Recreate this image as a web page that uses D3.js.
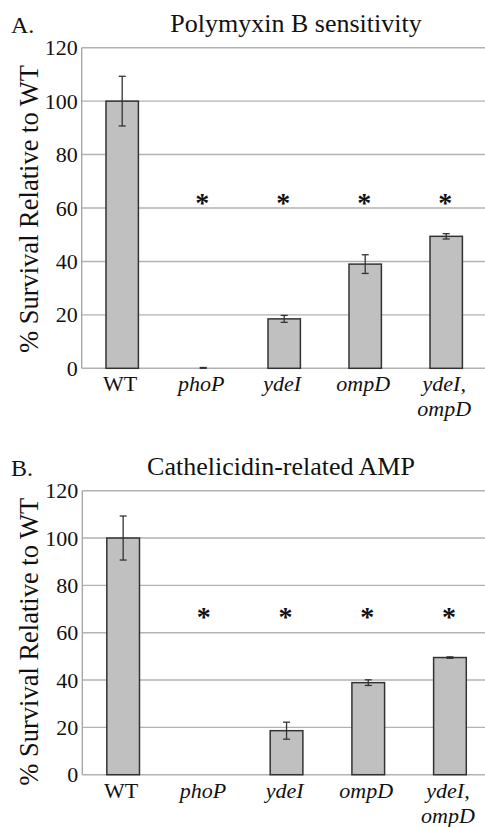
<!DOCTYPE html>
<html>
<head>
<meta charset="utf-8">
<script src="https://cdn.jsdelivr.net/npm/d3@7"></script>
</head>
<body style="margin:0;background:#fff">
<svg id="chart" width="485" height="827" style="display:block"></svg>
<script>
// ---- data ----
const categories = ["WT", "phoP", "ydeI", "ompD", "ydeI,ompD"];
const categoryLines = [["WT"], ["phoP"], ["ydeI"], ["ompD"], ["ydeI,", "ompD"]];
const yTicks = [0, 20, 40, 60, 80, 100, 120];

const polymyxinValues = [100, 0, 18.5, 39, 49.4];
const polymyxinErrors = [9.3, 0.3, 1.3, 3.5, 1.0];
const polymyxinSignificant = [false, true, true, true, true];
const polymyxinStarLevel = 63;

const cathelicidinValues = [100, 0, 18.6, 38.9, 49.5];
const cathelicidinErrors = [9.3, 0, 3.6, 1.2, 0.3];
const cathelicidinSignificant = [false, true, true, true, true];
const cathelicidinStarLevel = 68;

const FONT = "Liberation Serif";
const svg = d3.select("#chart");

function drawPanel(opt) {
  const g = svg.append("g");
  const x = d3.scaleBand().domain(categories)
    .range([opt.x0, opt.x1]).paddingInner(0.6).paddingOuter(0.3);
  const y = d3.scaleLinear().domain([0, 120]).range([opt.yBottom, opt.yTop]);

  g.selectAll("line.grid").data(yTicks).join("line")
    .attr("x1", opt.x0).attr("x2", 485)
    .attr("y1", d => y(d)).attr("y2", d => y(d))
    .attr("stroke", "#b2b2b2").attr("stroke-width", 1.4);
  g.append("line").attr("x1", opt.x0).attr("x2", opt.x0)
    .attr("y1", y(120)).attr("y2", y(0))
    .attr("stroke", "#a8a8a8").attr("stroke-width", 1.4);

  const ax = g.append("g").attr("transform", `translate(${opt.x0 - 4},0)`)
    .call(d3.axisLeft(y).tickValues(yTicks).tickSize(0).tickPadding(0));
  ax.attr("font-family", FONT).attr("font-size", 22);
  ax.select(".domain").remove();
  ax.selectAll("text").attr("font-size", 22).attr("font-family", FONT)
    .style("font-family", FONT).attr("fill", "#111");

  const data = categories.map((c, i) => ({ c, v: opt.values[i], e: opt.errors[i], s: opt.sig[i] }));

  g.selectAll("rect.bar").data(data.filter(d => d.v > 0)).join("rect")
    .attr("x", d => x(d.c)).attr("width", x.bandwidth())
    .attr("y", d => y(d.v)).attr("height", d => y(0) - y(d.v))
    .attr("fill", "#c0c0c0").attr("stroke", "#333").attr("stroke-width", 1.5);

  const eb = g.selectAll("g.err").data(data.filter(d => d.e > 0)).join("g")
    .attr("transform", d => `translate(${x(d.c) + x.bandwidth() / 2},0)`);
  eb.append("line").attr("y1", d => y(d.v + d.e)).attr("y2", d => y(Math.max(0, d.v - d.e)))
    .attr("stroke", "#333").attr("stroke-width", 1.3);
  eb.append("line").attr("x1", -3.5).attr("x2", 3.5)
    .attr("y1", d => y(d.v + d.e)).attr("y2", d => y(d.v + d.e))
    .attr("stroke", "#333").attr("stroke-width", 1.3);
  eb.append("line").attr("x1", -3.5).attr("x2", 3.5)
    .attr("y1", d => y(Math.max(0, d.v - d.e))).attr("y2", d => y(Math.max(0, d.v - d.e)))
    .attr("stroke", "#333").attr("stroke-width", 1.3);

  g.selectAll("text.star").data(data.filter(d => d.s)).join("text")
    .style("font-family", FONT).attr("fill", "#111")
    .attr("x", d => x(d.c) + x.bandwidth() / 2 - 1)
    .attr("y", y(opt.starLevel) + 12)
    .attr("text-anchor", "middle").attr("font-size", 28).attr("font-weight", "bold")
    .text("*");

  const xl = g.selectAll("text.xl").data(categories).join("text")
    .style("font-family", FONT).attr("fill", "#111")
    .attr("text-anchor", "middle").attr("font-size", 22)
    .attr("font-style", (d, i) => i === 0 ? "normal" : "italic")
    .attr("transform", d => `translate(${x(d) + x.bandwidth() / 2 - 2},${y(0) + opt.xlabelDy})`);
  xl.selectAll("tspan").data((d, i) => categoryLines[i]).join("tspan")
    .attr("x", 0).attr("dy", (d, j) => j === 0 ? 0 : 25).text(d => d);

  g.append("text").style("font-family", FONT).attr("fill", "#111")
    .attr("x", opt.titleX).attr("y", opt.titleY)
    .attr("text-anchor", "middle").attr("font-size", 26).text(opt.title);
  g.append("text").style("font-family", FONT).attr("fill", "#111")
    .attr("x", 11).attr("y", opt.titleY + 1)
    .attr("font-size", 24).text(opt.letter);
  g.append("text").style("font-family", FONT).attr("fill", "#111")
    .attr("transform", `translate(37.5,${(y(0) + y(120)) / 2 + opt.ylabelShift}) rotate(-90)`)
    .attr("text-anchor", "middle").attr("font-size", 26.5)
    .text("% Survival Relative to WT");
}

drawPanel({
  x0: 81.7, x1: 486.7, yTop: 47.7, yBottom: 368.3,
  values: polymyxinValues, errors: polymyxinErrors, sig: polymyxinSignificant,
  starLevel: polymyxinStarLevel, title: "Polymyxin B sensitivity", letter: "A.",
  titleX: 296, titleY: 32, xlabelDy: 23, ylabelShift: 1
});
drawPanel({
  x0: 82.3, x1: 490.8, yTop: 490.7, yBottom: 774.7,
  values: cathelicidinValues, errors: cathelicidinErrors, sig: cathelicidinSignificant,
  starLevel: cathelicidinStarLevel, title: "Cathelicidin-related AMP", letter: "B.",
  titleX: 281, titleY: 475, xlabelDy: 23, ylabelShift: 9
});
</script>
</body>
</html>
